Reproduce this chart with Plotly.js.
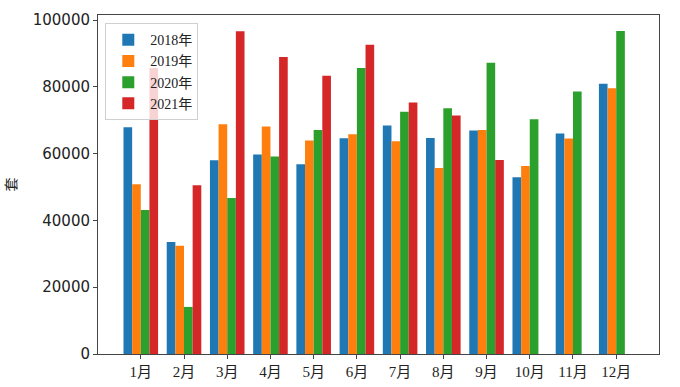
<!DOCTYPE html>
<html>
<head>
<meta charset="utf-8">
<script src="https://cdn.plot.ly/plotly-3.0.1.min.js"></script>
<style>html,body{margin:0;padding:0;background:#fff;}#chart{width:680px;height:387px;}</style>
</head>
<body>
<div id="chart"></div>
<script>
var months = ['1月','2月','3月','4月','5月','6月','7月','8月','9月','10月','11月','12月'];
var seriesNames = ['2018年','2019年','2020年','2021年'];
var v2018 = [67900, 33500, 58000, 59700, 56800, 64600, 68400, 64700, 66900, 52900, 66000, 80900];
var v2019 = [50800, 32400, 68800, 68100, 63900, 65800, 63700, 55700, 67100, 56300, 64500, 79600];
var v2020 = [43100, 14100, 46700, 59100, 67100, 85600, 72500, 73600, 87200, 70300, 78600, 96700];
var v2021 = [85600, 50500, 96600, 88900, 83300, 92600, 75300, 71400, 58100, null, null, null];
var colors = ['#1f77b4','#ff7f0e','#2ca02c','#d62728'];
var allVals = [v2018, v2019, v2020, v2021];

var serifFont = '"Liberation Serif", "Noto Sans CJK SC", serif';

var traces = allVals.map(function(vals, i){
  return {type:'bar', name:seriesNames[i], x:months, y:vals,
    marker:{color:colors[i], line:{width:0}}, hoverinfo:'skip'};
});

var layout = {
  width:680, height:387,
  margin:{l:98, r:21, t:15, b:33},
  paper_bgcolor:'#fff', plot_bgcolor:'#fff',
  barmode:'group', bargap:0.2, bargroupgap:0,
  showlegend:true,
  legend:{x:0.013, y:0.976, xanchor:'left', yanchor:'top',
    bgcolor:'rgba(255,255,255,0.8)', bordercolor:'#d0d0d0', borderwidth:1,
    font:{family:serifFont, size:14, color:'#222'},
    tracegroupgap:0, itemwidth:34},
  xaxis:{type:'category', range:[-0.99, 11.99], showgrid:false, zeroline:false,
    showline:true, linecolor:'#444', linewidth:1, mirror:true,
    ticks:'outside', ticklen:4, tickcolor:'#444',
    tickfont:{family:serifFont, size:15, color:'#222'}},
  yaxis:{range:[0, 101500], dtick:20000, tickformat:'d', showgrid:false, zeroline:false,
    showline:true, linecolor:'#444', linewidth:1, mirror:true,
    ticks:'outside', ticklen:4, tickcolor:'#444',
    tickfont:{family:'"DejaVu Sans", sans-serif', size:15, color:'#222'},
    title:{text:'套', standoff:12, font:{family:'"Noto Sans CJK SC", sans-serif', size:14, color:'#222'}}}
};

Plotly.newPlot('chart', traces, layout, {displayModeBar:false, staticPlot:true});
</script>
</body>
</html>
